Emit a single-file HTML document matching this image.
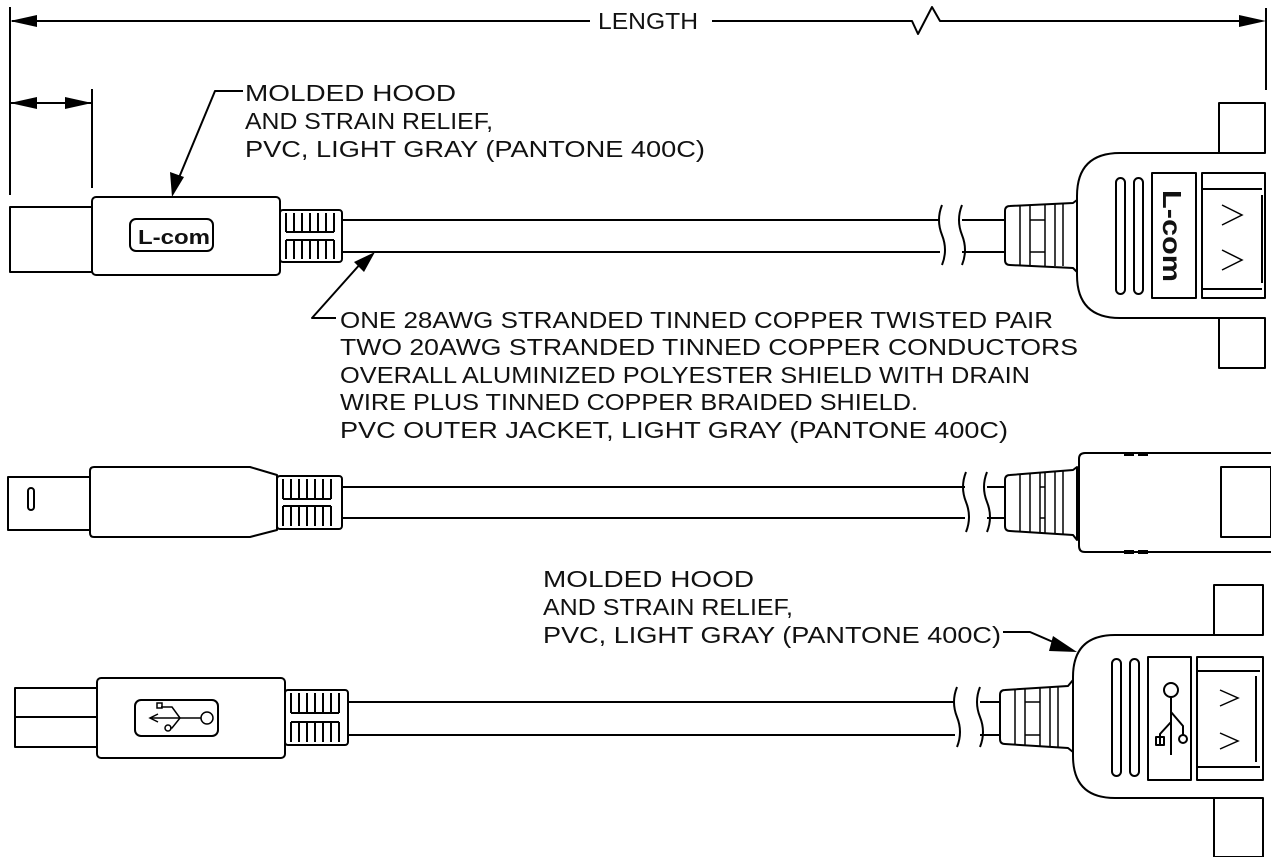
<!DOCTYPE html>
<html><head><meta charset="utf-8"><style>
html,body{margin:0;padding:0;background:#fff;}
svg{display:block;}
text{font-family:"Liberation Sans",sans-serif;font-size:23px;fill:#111;}
</style></head><body>
<svg width="1271" height="857" viewBox="0 0 1271 857" xmlns="http://www.w3.org/2000/svg">
<g fill="none" stroke="#000" stroke-width="2" stroke-linejoin="round">
<line x1="10" y1="7" x2="10" y2="195"/>
<line x1="1266" y1="8" x2="1266" y2="90"/>
<polyline points="12,21 590,21"/>
<polyline points="712,21 912,21 918,34 932,7 940,21 1240,21"/>
<line x1="10" y1="103" x2="92" y2="103"/>
<line x1="92" y1="89" x2="92" y2="188"/>
<polyline points="243,91 215,91 178,180"/>
<polyline points="336,318 312,318 362,262"/>
<polyline points="1003,632 1030,632 1060,645"/>
<!-- ROW 1 left -->
<rect x="10" y="207" width="82" height="65"/>
<rect x="92" y="197" width="188" height="78" rx="4"/>
<rect x="130" y="219" width="83" height="32" rx="6"/>
<rect x="280" y="210" width="62" height="52" rx="3"/>
<line x1="342" y1="220" x2="940" y2="220"/><line x1="342" y1="252" x2="940" y2="252"/>
<path d="M942,205 q-6,15 0,30 q6,15 0,30"/><path d="M962,205 q-6,15 0,30 q6,15 0,30"/>
<line x1="962" y1="220" x2="1005" y2="220"/><line x1="962" y1="252" x2="1005" y2="252"/>
<path d="M1010,206 L1073,203 L1077,200 L1077,272 L1073,268 L1010,265 Q1005,265 1005,260 L1005,211 Q1005,206 1010,206Z"/>
<path d="M1265,153 L1120,153 Q1077,153 1077,196 L1077,275 Q1077,318 1120,318 L1265,318"/>
<rect x="1219" y="103" width="46" height="50"/><rect x="1219" y="318" width="46" height="50"/>
<rect x="1116" y="178" width="9" height="116" rx="4.5"/><rect x="1134" y="178" width="9" height="116" rx="4.5"/>
<rect x="1152" y="173" width="44" height="125"/>
<rect x="1202" y="173" width="63" height="125"/>
<line x1="1202" y1="189" x2="1262" y2="189"/><line x1="1202" y1="289" x2="1262" y2="289"/>
<line x1="1262" y1="195" x2="1262" y2="283"/>
<!-- ROW 2 -->
<rect x="8" y="477" width="82" height="53"/>
<rect x="28" y="488" width="6" height="22" rx="3"/>
<path d="M94,467 L250,467 L277,475 L277,530 L250,537 L94,537 Q90,537 90,533 L90,471 Q90,467 94,467Z"/>
<rect x="277" y="476" width="65" height="53" rx="3"/>
<line x1="342" y1="487" x2="965" y2="487"/><line x1="342" y1="518" x2="965" y2="518"/>
<path d="M966,472 q-6,15 0,30 q6,15 0,30"/><path d="M987,472 q-6,15 0,30 q6,15 0,30"/>
<line x1="987" y1="487" x2="1005" y2="487"/><line x1="987" y1="518" x2="1005" y2="518"/>
<path d="M1010,475 L1073,470 L1077,467 L1077,540 L1073,535 L1010,531 Q1005,531 1005,526 L1005,480 Q1005,475 1010,475Z"/>
<path d="M1271,453 L1085,453 Q1079,453 1079,459 L1079,546 Q1079,552 1085,552 L1271,552"/>
<rect x="1221" y="467" width="50" height="70"/>
<!-- ROW 3 -->
<rect x="15" y="688" width="82" height="59"/><line x1="15" y1="717" x2="97" y2="717"/>
<rect x="97" y="678" width="188" height="80" rx="4"/>
<rect x="135" y="700" width="83" height="36" rx="6"/>
<rect x="285" y="690" width="63" height="55" rx="3"/>
<line x1="348" y1="702" x2="955" y2="702"/><line x1="348" y1="735" x2="955" y2="735"/>
<path d="M957,687 q-6,15 0,30 q6,15 0,30"/><path d="M980,687 q-6,15 0,30 q6,15 0,30"/>
<line x1="980" y1="702" x2="1000" y2="702"/><line x1="980" y1="735" x2="1000" y2="735"/>
<path d="M1005,690 L1068,686 L1073,680 L1073,752 L1068,748 L1005,744 Q1000,744 1000,739 L1000,695 Q1000,690 1005,690Z"/>
<path d="M1263,635 L1115,635 Q1073,635 1073,677 L1073,756 Q1073,798 1115,798 L1263,798"/>
<rect x="1214" y="585" width="49" height="50"/><rect x="1214" y="798" width="49" height="59"/>
<rect x="1112" y="659" width="9" height="117" rx="4.5"/><rect x="1130" y="659" width="9" height="117" rx="4.5"/>
<rect x="1148" y="657" width="43" height="123"/>
<rect x="1197" y="657" width="66" height="123"/>
<line x1="1197" y1="671" x2="1260" y2="671"/><line x1="1197" y1="767" x2="1260" y2="767"/>
<line x1="1256" y1="676" x2="1256" y2="762"/>
<circle cx="1171" cy="690" r="7"/><line x1="1171" y1="697" x2="1171" y2="755"/>
<polyline points="1171,712 1183,726 1183,735"/><circle cx="1183" cy="739" r="4"/>
<polyline points="1171,722 1160,734 1160,745"/><rect x="1156" y="737" width="8" height="8"/>
</g>
<g stroke="#000" stroke-width="2" fill="none">
<path d="M286,213v19M294,213v19M302,213v19M310,213v19M318,213v19M326,213v19M334,213v19M286,240v19M294,240v19M302,240v19M310,240v19M318,240v19M326,240v19M334,240v19M286,232h48M286,240h48"/>
<path d="M283,479v20M291,479v20M299,479v20M307,479v20M315,479v20M323,479v20M331,479v20M283,506v20M291,506v20M299,506v20M307,506v20M315,506v20M323,506v20M331,506v20M283,499h48M283,506h48"/>
<path d="M291,693v20M299,693v20M307,693v20M315,693v20M323,693v20M331,693v20M339,693v20M291,722v20M299,722v20M307,722v20M315,722v20M323,722v20M331,722v20M339,722v20M291,713h48M291,722h48"/>
</g>
<g stroke="#000" stroke-width="1.5" fill="none">
<path d="M1020,205v61M1030,205v61M1045,205v61M1055,204v62M1063,204v62M1030,220h15M1030,252h15"/>
<path d="M1020,474v58M1030,473v60M1045,472v61M1055,471v63M1063,470v64M1040,472v60M1040,487h5M1040,518h5"/>
<path d="M1015,689v56M1025,688v58M1040,688v58M1050,687v60M1058,686v62M1025,702h15M1025,735h15"/>
<path d="M1222,205l20,10l-20,10M1222,250l20,10l-20,10M1220,690l18,8l-18,8M1220,733l18,8l-18,8"/>
<circle cx="207" cy="718" r="6"/><line x1="150" y1="718" x2="201" y2="718"/>
<polyline points="158,714 150,718 158,722"/>
<polyline points="161,707 172,707 180,718"/><rect x="157" y="703" width="5" height="5"/>
<polyline points="180,718 172,728 170,728"/><circle cx="168" cy="728" r="3"/>
</g>
<g fill="#000">
<polygon points="10,21 37,15 37,27"/><polygon points="1266,21 1239,15 1239,27"/>
<polygon points="10,103 37,97 37,109"/><polygon points="92,103 65,97 65,109"/>
<polygon points="172,197 170,172 184,177"/>
<polygon points="375,252 354,262 364,272"/>
<polygon points="1077,652 1053,636 1049,651"/>
<rect x="1124" y="452" width="10" height="4"/><rect x="1138" y="452" width="10" height="4"/>
<rect x="1124" y="550" width="10" height="4"/><rect x="1138" y="550" width="10" height="4"/>
</g>
<text x="138" y="244" style="font-size:20px;font-weight:bold" textLength="72" lengthAdjust="spacingAndGlyphs">L-com</text>
<text x="1163" y="190" transform="rotate(90 1163 190)" style="font-size:26px;font-weight:bold" textLength="92" lengthAdjust="spacingAndGlyphs">L-com</text>
<g>
<text x="648" y="29" text-anchor="middle" textLength="100" lengthAdjust="spacingAndGlyphs">LENGTH</text>
<text x="245" y="101" textLength="211" lengthAdjust="spacingAndGlyphs">MOLDED HOOD</text>
<text x="245" y="129" textLength="248" lengthAdjust="spacingAndGlyphs">AND STRAIN RELIEF,</text>
<text x="245" y="157" textLength="460" lengthAdjust="spacingAndGlyphs">PVC, LIGHT GRAY (PANTONE 400C)</text>
<text x="340" y="328" textLength="713" lengthAdjust="spacingAndGlyphs">ONE 28AWG STRANDED TINNED COPPER TWISTED PAIR</text>
<text x="340" y="355" textLength="738" lengthAdjust="spacingAndGlyphs">TWO 20AWG STRANDED TINNED COPPER CONDUCTORS</text>
<text x="340" y="383" textLength="690" lengthAdjust="spacingAndGlyphs">OVERALL ALUMINIZED POLYESTER SHIELD WITH DRAIN</text>
<text x="340" y="410" textLength="578" lengthAdjust="spacingAndGlyphs">WIRE PLUS TINNED COPPER BRAIDED SHIELD.</text>
<text x="340" y="438" textLength="668" lengthAdjust="spacingAndGlyphs">PVC OUTER JACKET,  LIGHT GRAY (PANTONE 400C)</text>
<text x="543" y="587" textLength="211" lengthAdjust="spacingAndGlyphs">MOLDED HOOD</text>
<text x="543" y="615" textLength="250" lengthAdjust="spacingAndGlyphs">AND STRAIN RELIEF,</text>
<text x="543" y="643" textLength="458" lengthAdjust="spacingAndGlyphs">PVC, LIGHT GRAY (PANTONE 400C)</text>
</g>
</svg>
</body></html>
